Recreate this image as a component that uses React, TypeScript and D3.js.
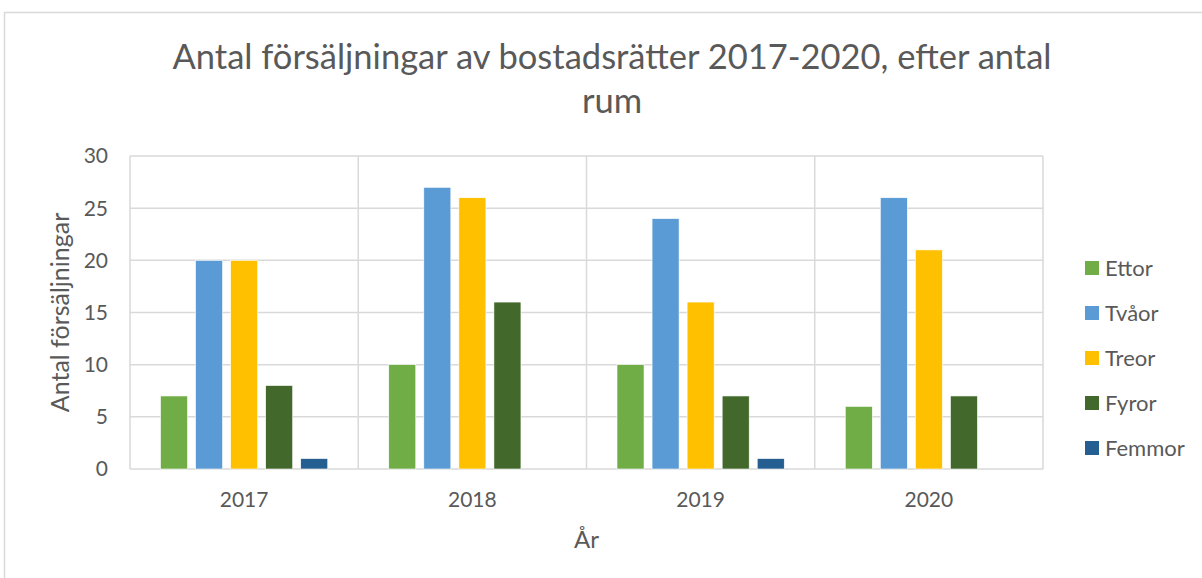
import React, { useEffect, useRef } from 'react';
import * as d3 from 'd3';

const years = ['2017', '2018', '2019', '2020'];
const series = ['Ettor', 'Tvåor', 'Treor', 'Fyror', 'Femmor'];
const colors = ['#70AD47', '#5B9BD5', '#FFC000', '#43682B', '#255E91'];
// values per series, one per year
const ettor = [7, 10, 10, 6];
const tvaor = [20, 27, 24, 26];
const treor = [20, 26, 16, 21];
const fyror = [8, 16, 7, 7];
const femmor = [1, 0, 1, 0];
const yTicks = [0, 5, 10, 15, 20, 25, 30];

const values = [ettor, tvaor, treor, fyror, femmor];

const App: React.FC = () => {
  const ref = useRef<SVGSVGElement | null>(null);

  useEffect(() => {
    if (!ref.current) return;
    const width = 1202;
    const height = 578;
    const font = 'Lato, "Open Sans", sans-serif';
    const textColor = '#595959';
    const grid = '#d9d9d9';

    const svg = d3.select(ref.current);
    svg.selectAll('*').remove();

    svg.append('rect')
      .attr('x', 0).attr('y', 0).attr('width', width).attr('height', height)
      .attr('fill', '#fff');

    // chart frame
    svg.append('rect')
      .attr('x', 4.5).attr('y', 12.5).attr('width', 1400).attr('height', 800)
      .attr('fill', 'none').attr('stroke', grid).attr('stroke-width', 1.5);

    const plot = { left: 130, right: 1043, top: 156, bottom: 469 };

    const x0 = d3.scaleBand<string>().domain(years).range([plot.left, plot.right]).padding(0);
    const x1 = d3.scaleBand<string>().domain(series)
      .range([30.5, x0.bandwidth() - 30.5]).paddingInner(0.229).paddingOuter(0);
    const y = d3.scaleLinear().domain([0, 30]).range([plot.bottom, plot.top]);

    // horizontal gridlines
    svg.append('g').selectAll('line')
      .data(yTicks)
      .enter().append('line')
      .attr('x1', plot.left).attr('x2', plot.right)
      .attr('y1', d => y(d)).attr('y2', d => y(d))
      .attr('stroke', grid).attr('stroke-width', 1.5);

    // vertical gridlines at category boundaries
    const bounds = years.map(d => x0(d) as number).concat([plot.right]);
    svg.append('g').selectAll('line')
      .data(bounds)
      .enter().append('line')
      .attr('x1', d => d).attr('x2', d => d)
      .attr('y1', plot.top).attr('y2', plot.bottom)
      .attr('stroke', grid).attr('stroke-width', 1.5);

    // bars
    const groups = svg.append('g').selectAll('g')
      .data(years)
      .enter().append('g')
      .attr('transform', d => `translate(${x0(d)},0)`);

    groups.selectAll('rect')
      .data((_d, i) => series.map((s, j) => ({ s, j, v: values[j][i] })))
      .enter().append('rect')
      .filter(d => d.v > 0)
      .attr('x', d => x1(d.s) as number)
      .attr('width', x1.bandwidth())
      .attr('y', d => y(d.v))
      .attr('height', d => y(0) - y(d.v))
      .attr('fill', d => colors[d.j])
      .attr('stroke', '#fff').attr('stroke-width', 0.6);

    // y tick labels
    svg.append('g').selectAll('text')
      .data(yTicks)
      .enter().append('text')
      .attr('x', 108).attr('y', d => y(d))
      .attr('dy', '0.35em')
      .attr('text-anchor', 'end')
      .attr('font-family', font).attr('font-size', 21).attr('fill', textColor)
      .text(d => d);

    // x tick labels
    svg.append('g').selectAll('text')
      .data(years)
      .enter().append('text')
      .attr('x', d => (x0(d) as number) + x0.bandwidth() / 2)
      .attr('y', 500).attr('dy', '0.35em')
      .attr('text-anchor', 'middle')
      .attr('font-family', font).attr('font-size', 21).attr('fill', textColor)
      .text(d => d);

    // axis titles
    svg.append('text')
      .attr('x', (plot.left + plot.right) / 2).attr('y', 540).attr('dy', '0.35em')
      .attr('text-anchor', 'middle')
      .attr('font-family', font).attr('font-size', 24).attr('fill', textColor)
      .text('År');

    svg.append('text')
      .attr('transform', `translate(60,${(plot.top + plot.bottom) / 2}) rotate(-90)`)
      .attr('dy', '0.35em')
      .attr('text-anchor', 'middle')
      .attr('font-family', font).attr('font-size', 25).attr('fill', textColor)
      .text('Antal försäljningar');

    // title
    const title = ['Antal försäljningar av bostadsrätter 2017-2020, efter antal', 'rum'];
    svg.append('g').selectAll('text')
      .data(title)
      .enter().append('text')
      .attr('x', 612).attr('y', (_d, i) => 57 + i * 44).attr('dy', '0.35em')
      .attr('text-anchor', 'middle')
      .attr('font-family', font).attr('font-size', 34.5).attr('fill', textColor)
      .text(d => d);

    // legend
    const legend = svg.append('g').selectAll('g')
      .data(series)
      .enter().append('g')
      .attr('transform', (_d, i) => `translate(1085,${268 + i * 45})`);
    legend.append('rect')
      .attr('x', 0).attr('y', -7).attr('width', 14).attr('height', 14)
      .attr('fill', (_d, i) => colors[i]);
    legend.append('text')
      .attr('x', 20).attr('y', 0).attr('dy', '0.35em')
      .attr('font-family', font).attr('font-size', 22).attr('fill', textColor)
      .text(d => d);
  }, []);

  return (
    <svg ref={ref} width={1202} height={578}
      style={{ position: 'absolute', left: 0, top: 0, display: 'block' }} />
  );
};

export default App;
